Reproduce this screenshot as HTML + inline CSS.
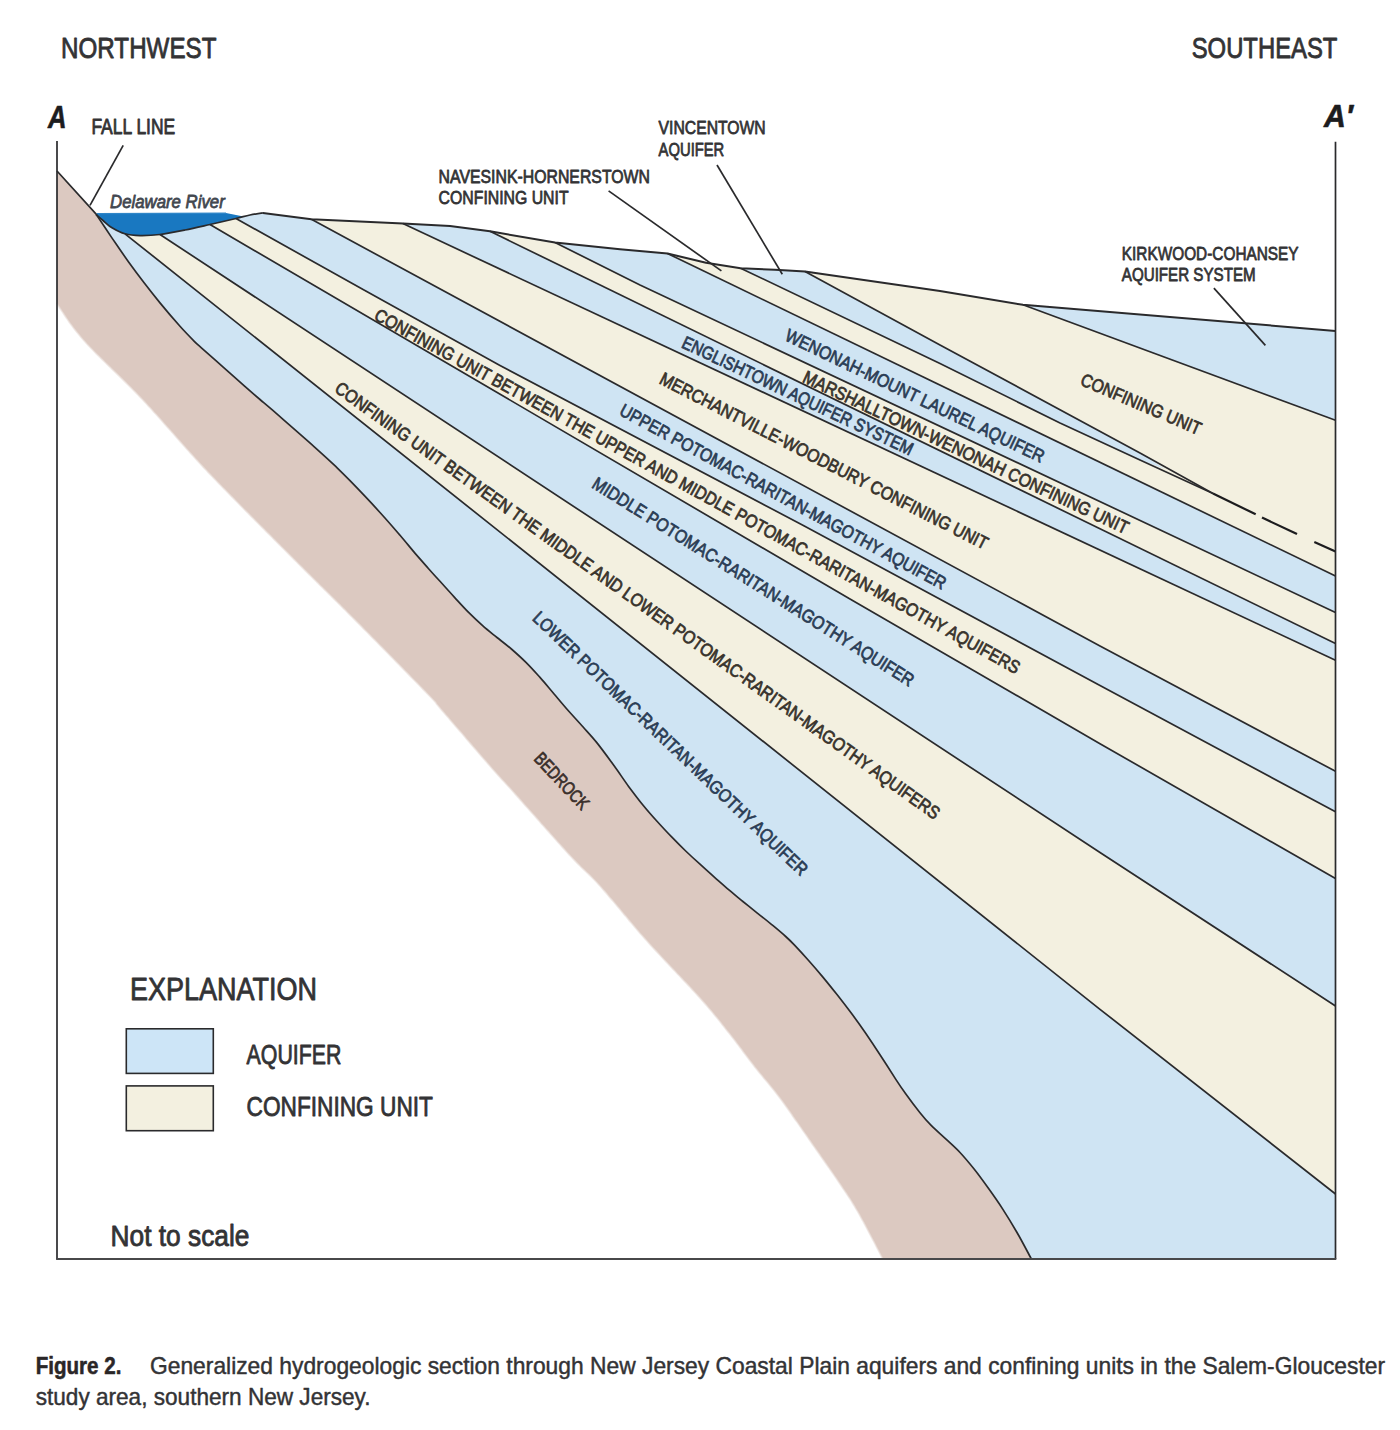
<!DOCTYPE html>
<html><head><meta charset="utf-8"><title>Figure 2</title>
<style>
html,body{margin:0;padding:0;background:#fff;}
body{width:1400px;height:1430px;overflow:hidden;font-family:"Liberation Sans",sans-serif;}
svg{display:block;}
svg text{font-family:"Liberation Sans",sans-serif;}
</style></head>
<body>
<svg width="1400" height="1430" viewBox="0 0 1400 1430">
<rect width="1400" height="1430" fill="#ffffff"/>
<polygon fill="#cfe4f3" points="96,214.5 97.2,215.5 98.9,217 100.9,218.8 103,220.5 104.6,221.9 106.3,223.4 108,224.9 109.9,226.4 112,227.8 113.6,228.8 115.4,229.7 117.2,230.7 119.1,231.6 121,232.4 123,233.2 125,233.8 127,234.3 129,234.7 131,235 133.1,235.3 135.3,235.4 137.6,235.5 140,235.6 141.8,235.6 143.6,235.6 145.5,235.6 147.4,235.5 149.4,235.4 151.4,235.3 153.5,235.2 155.6,235 157.8,234.8 160,234.5 161.9,234.2 163.9,234 165.9,233.6 168,233.3 170.1,232.9 172.2,232.5 174.3,232.1 176.5,231.7 178.6,231.3 180.8,230.8 182.9,230.4 185,230 187.1,229.6 189.2,229.1 191.2,228.7 193.3,228.3 195.4,227.8 197.4,227.3 199.5,226.9 201.6,226.4 203.7,225.9 205.8,225.5 207.9,225 210,224.5 212,224 214.1,223.6 216.2,223.1 218.3,222.6 220.5,222.1 222.6,221.6 224.7,221.1 226.8,220.6 228.9,220.2 230.8,219.7 232.7,219.3 234.4,218.9 236,218.5 238.6,217.9 240.9,217.3 242.9,216.8 244.7,216.3 246.4,215.8 248.2,215.4 250,215 252.4,214.5 254.9,214.1 257.3,213.7 259.6,213.4 261.5,213.1 262.9,212.9 311.4,219.3 402.9,223.6 450,226 490,231.3 555,242.5 620,249.2 667.5,253.5 706,262.7 740.6,268.2 775,269.8 805,271.6 940,290.9 1022.9,304.8 1335.5,330.9 1335.5,1259 1031.4,1259 1031.4,1259 1030.5,1257.4 1029.4,1255.3 1028.1,1252.9 1026.7,1250.1 1025.1,1247.2 1023.4,1244.1 1021.8,1241 1020.1,1238 1018.5,1235.1 1017,1232.5 1015.4,1229.7 1013.9,1227.1 1012.3,1224.4 1010.7,1221.8 1009.2,1219.3 1007.6,1216.8 1006,1214.3 1004.5,1211.8 1002.9,1209.4 1001.1,1206.7 999.3,1204 997.6,1201.4 995.8,1198.8 994,1196.2 992.2,1193.6 990.4,1191.1 988.6,1188.6 986.8,1186.1 985,1183.6 983.2,1181.1 981.5,1178.7 979.7,1176.3 977.9,1173.9 976.1,1171.6 974.3,1169.3 972.3,1166.7 970.2,1164.2 968.2,1161.8 966.1,1159.3 964.1,1157 962,1154.7 960,1152.5 957.6,1150 955.2,1147.7 952.9,1145.5 950.5,1143.3 948.1,1141.1 945.7,1138.9 943.3,1136.7 940.8,1134.5 938.4,1132.2 936,1130.1 933.6,1127.9 931.4,1125.7 929,1123.2 926.8,1120.8 924.6,1118.4 922.4,1115.7 920,1112.7 918.3,1110.6 916.5,1108.3 914.6,1105.8 912.6,1103.2 910.7,1100.6 908.8,1098.1 907.1,1095.7 905.5,1093.5 903.4,1090.6 901.7,1088.1 900,1085.7 898.2,1083 896,1079.6 894.5,1077.3 892.8,1074.7 891.1,1072 889.2,1069.1 887.4,1066.1 885.4,1063.2 883.6,1060.2 881.7,1057.4 880,1054.7 878.1,1051.9 876.3,1049.1 874.5,1046.3 872.7,1043.7 871,1041 869.2,1038.4 867.5,1035.8 865.7,1033.2 863.9,1030.7 862.1,1028.1 860.3,1025.6 858.6,1023.1 856.8,1020.6 855,1018.2 853.2,1015.7 851.4,1013.3 849.3,1010.5 847.3,1007.8 845.2,1005.1 843.2,1002.4 841.1,999.8 839,997.1 837,994.5 835,992 833,989.4 830.9,986.9 828.9,984.5 826.9,982 824.9,979.6 822.9,977.1 820.9,974.7 818.8,972.3 816.8,969.9 814.7,967.5 812.7,965.2 810.6,962.8 808.6,960.5 806.5,958.2 804.3,955.8 802.2,953.4 800,951 798,948.8 796,946.8 794.3,944.9 791.9,942.4 790,940.5 788.1,938.7 785.7,936.5 783.6,934.6 781.4,932.7 778.9,930.6 776.4,928.5 773.9,926.3 771.4,924.3 769,922.4 766.6,920.4 764.2,918.5 761.8,916.6 759.4,914.7 757,912.8 754.6,910.9 752.3,909 749.9,907.2 747.6,905.3 745.3,903.4 742.9,901.5 740.5,899.5 738.1,897.6 735.8,895.6 733.4,893.6 731,891.6 728.6,889.6 726.2,887.6 723.8,885.5 721.5,883.4 719.1,881.3 716.7,879.2 714.3,877.1 711.9,875 709.5,872.8 707.1,870.7 704.8,868.6 702.4,866.4 700,864.2 697.6,862.1 695.2,859.9 692.9,857.7 690.5,855.5 688.1,853.3 685.7,851 683.3,848.7 680.9,846.4 678.6,844 676.2,841.6 673.8,839.2 671.4,836.7 669.3,834.6 667.3,832.4 665.2,830.2 663.2,828 661.1,825.8 659,823.6 657,821.3 655,819 653,816.8 650.9,814.5 648.9,812.2 646.9,809.9 644.9,807.5 642.9,805 640.9,802.5 638.8,799.9 636.8,797.3 634.7,794.6 632.7,791.9 630.6,789.1 628.6,786.4 626.8,783.9 625.1,781.5 623.4,779 621.6,776.5 619.9,773.9 618.1,771.3 616.2,768.7 614.3,766 612.5,763.5 610.6,760.9 608.6,758.3 606.6,755.6 604.6,752.8 602.6,750.2 600.7,747.6 598.8,745.2 597,742.9 594.8,740.2 592.7,737.8 590.7,735.5 588.8,733.3 586.8,731.1 584.9,729 582.9,726.8 580.9,724.5 578.8,722.3 576.8,720 574.7,717.8 572.7,715.6 570.6,713.3 568.6,711 566.6,708.7 564.5,706.3 562.5,703.9 560.4,701.5 558.4,699.1 556.3,696.7 554.3,694.2 552.3,691.8 550.2,689.4 548.2,687 546.1,684.5 544.1,682.1 542,679.8 540,677.4 537.6,674.8 535.2,672.1 532.9,669.5 530.5,667 528.1,664.5 525.7,662.1 523.3,659.8 520.9,657.5 518.6,655.3 516.2,653.2 513.8,651.1 511.4,649 509,647 506.6,645.1 504.2,643.2 501.8,641.3 499.4,639.4 497,637.5 494.6,635.6 492.3,633.7 489.9,631.8 487.6,629.9 485.3,628 482.9,625.9 480.5,623.8 478.1,621.6 475.8,619.4 473.4,617.1 471,614.8 468.6,612.4 466.2,609.9 463.8,607.4 461.4,604.9 459.1,602.3 456.7,599.7 454.3,597.1 452.2,594.9 450.1,592.6 448,590.2 445.9,587.9 443.9,585.6 441.9,583.4 440,581.3 437.6,578.6 435.3,576.1 433.1,573.7 430.9,571.3 428.6,568.7 426.6,566.5 424.6,564.2 422.6,561.9 420.5,559.6 418.3,557.1 416,554.4 414.2,552.2 412.3,550 410.4,547.7 408.5,545.4 406.4,543 404.4,540.5 402.2,537.9 400,535.3 398.2,533.2 396.4,531.1 394.6,529 392.8,526.9 390.9,524.7 388.9,522.4 386.9,520.1 384.7,517.7 382.4,515.1 380,512.5 378.1,510.4 376.1,508.2 373.9,505.9 371.7,503.5 369.4,501 367,498.5 364.6,496 362.3,493.5 360,491.1 357.7,488.7 355.6,486.5 353.5,484.4 351.7,482.4 350,480.7 346.8,477.3 344.3,474.8 342.3,472.8 340.4,470.9 338.3,468.9 335.7,466.4 333.8,464.6 331.8,462.8 329.9,461 327.9,459.1 325.7,457 323.3,454.9 320.6,452.5 317.7,449.8 314.3,446.8 312.5,445.2 310.5,443.4 308.4,441.6 306.1,439.6 303.7,437.5 301.3,435.3 298.7,433.1 296.1,430.8 293.5,428.5 290.9,426.3 288.3,424 285.8,421.8 283.4,419.6 281,417.6 278.7,415.6 276.6,413.8 274.7,412.1 272.9,410.6 271.4,409.2 267.2,405.6 264.8,403.5 263.4,402.3 262.1,401.2 260,399.5 257.7,397.5 255.3,395.4 252.8,393.2 250.1,390.9 247.3,388.5 244.3,385.9 242.2,384 239.9,382 237.6,380 235.2,377.8 232.7,375.7 230.3,373.5 227.8,371.3 225.3,369.1 222.9,366.9 220.4,364.8 217.9,362.5 215.2,360.2 212.6,357.8 210,355.5 207.5,353.3 205.2,351.3 203.2,349.5 201.4,347.9 198.2,345.1 196.7,343.6 194.3,341.3 192.4,339.4 190.3,337.2 188,334.8 185.5,332.2 182.8,329.4 180,326.3 178.2,324.3 176.3,322.1 174.3,319.8 172.2,317.4 170.1,314.9 168,312.4 165.9,309.9 163.8,307.5 161.9,305.2 160,302.9 157.8,300.3 155.8,297.7 153.8,295.3 151.9,292.9 150,290.5 148.1,288.1 146.2,285.6 144.3,283.1 142.3,280.5 140.4,278 138.5,275.4 136.5,272.9 134.6,270.2 132.6,267.6 130.6,264.8 128.6,262 126.9,259.6 125.2,257.2 123.5,254.7 121.8,252.2 120,249.7 118.2,247.1 116.5,244.5 114.8,242 113.1,239.5 111.4,237.1 109.5,234.3 107.5,231.3 105.5,228.3 103.5,225.2 101.5,222.3 99.7,219.6 98.1,217.2 96.7,215.2 95.7,213.6"/>
<polygon fill="#f3f0e0" points="125,233.8 127,234.3 129,234.7 131,235 133.1,235.3 135.3,235.4 137.6,235.5 140,235.6 141.8,235.6 143.6,235.6 145.5,235.6 147.4,235.5 149.4,235.4 151.4,235.3 153.5,235.2 155.6,235 157.8,234.8 160,234.5 161.9,234.2 163.9,234 165.9,233.6 168,233.3 170.1,232.9 172.2,232.5 174.3,232.1 176.5,231.7 178.6,231.3 180.8,230.8 182.9,230.4 185,230 187.1,229.6 189.2,229.1 191.2,228.7 193.3,228.3 195.4,227.8 197.4,227.3 199.5,226.9 201.6,226.4 203.7,225.9 205.8,225.5 207.9,225 210,224.5 212,224 214.1,223.6 216.2,223.1 218.3,222.6 220.5,222.1 222.6,221.6 224.7,221.1 226.8,220.6 228.9,220.2 230.8,219.7 232.7,219.3 234.4,218.9 236,218.5 238.6,217.9 240.9,217.3 242.9,216.8 244.7,216.3 246.4,215.8 248.2,215.4 250,215 252.4,214.5 254.9,214.1 257.3,213.7 259.6,213.4 261.5,213.1 262.9,212.9 311.4,219.3 402.9,223.6 450,226 490,231.3 555,242.5 620,249.2 667.5,253.5 706,262.7 740.6,268.2 775,269.8 805,271.6 940,290.9 1022.9,304.8 1335.5,330.9 1335.5,1194 1100,1009.3"/>
<polygon fill="#cfe4f3" points="160,234.5 161.9,234.2 163.9,234 165.9,233.6 168,233.3 170.1,232.9 172.2,232.5 174.3,232.1 176.5,231.7 178.6,231.3 180.8,230.8 182.9,230.4 185,230 187.1,229.6 189.2,229.1 191.2,228.7 193.3,228.3 195.4,227.8 197.4,227.3 199.5,226.9 201.6,226.4 203.7,225.9 205.8,225.5 207.9,225 210,224.5 212,224 214.1,223.6 216.2,223.1 218.3,222.6 220.5,222.1 222.6,221.6 224.7,221.1 226.8,220.6 228.9,220.2 230.8,219.7 232.7,219.3 234.4,218.9 236,218.5 238.6,217.9 240.9,217.3 242.9,216.8 244.7,216.3 246.4,215.8 248.2,215.4 250,215 252.4,214.5 254.9,214.1 257.3,213.7 259.6,213.4 261.5,213.1 262.9,212.9 311.4,219.3 402.9,223.6 450,226 490,231.3 555,242.5 620,249.2 667.5,253.5 706,262.7 740.6,268.2 775,269.8 805,271.6 940,290.9 1022.9,304.8 1335.5,330.9 1335.5,1006 1100,852.5"/>
<polygon fill="#f3f0e0" points="210,224.5 212,224 214.1,223.6 216.2,223.1 218.3,222.6 220.5,222.1 222.6,221.6 224.7,221.1 226.8,220.6 228.9,220.2 230.8,219.7 232.7,219.3 234.4,218.9 236,218.5 238.6,217.9 240.9,217.3 242.9,216.8 244.7,216.3 246.4,215.8 248.2,215.4 250,215 252.4,214.5 254.9,214.1 257.3,213.7 259.6,213.4 261.5,213.1 262.9,212.9 311.4,219.3 402.9,223.6 450,226 490,231.3 555,242.5 620,249.2 667.5,253.5 706,262.7 740.6,268.2 775,269.8 805,271.6 940,290.9 1022.9,304.8 1335.5,330.9 1335.5,878.6 1100,743.7 850,599"/>
<polygon fill="#cfe4f3" points="236,218.5 238.6,217.9 240.9,217.3 242.9,216.8 244.7,216.3 246.4,215.8 248.2,215.4 250,215 252.4,214.5 254.9,214.1 257.3,213.7 259.6,213.4 261.5,213.1 262.9,212.9 311.4,219.3 402.9,223.6 450,226 490,231.3 555,242.5 620,249.2 667.5,253.5 706,262.7 740.6,268.2 775,269.8 805,271.6 940,290.9 1022.9,304.8 1335.5,330.9 1335.5,811.8 1100,685.5 804.3,526 500,365.5 364,290"/>
<polygon fill="#f3f0e0" points="311.4,219.3 402.9,223.6 450,226 490,231.3 555,242.5 620,249.2 667.5,253.5 706,262.7 740.6,268.2 775,269.8 805,271.6 940,290.9 1022.9,304.8 1335.5,330.9 1335.5,771.3 1100,646"/>
<polygon fill="#cfe4f3" points="402.9,223.6 450,226 490,231.3 555,242.5 620,249.2 667.5,253.5 706,262.7 740.6,268.2 775,269.8 805,271.6 940,290.9 1022.9,304.8 1335.5,330.9 1335.5,660.3"/>
<polygon fill="#f3f0e0" points="490,231.3 555,242.5 620,249.2 667.5,253.5 706,262.7 740.6,268.2 775,269.8 805,271.6 940,290.9 1022.9,304.8 1335.5,330.9 1335.5,643.6"/>
<polygon fill="#cfe4f3" points="555,242.5 620,249.2 667.5,253.5 706,262.7 740.6,268.2 775,269.8 805,271.6 940,290.9 1022.9,304.8 1335.5,330.9 1335.5,612.5 640,285"/>
<polygon fill="#f3f0e0" points="667.5,253.5 706,262.7 740.6,268.2 775,269.8 805,271.6 940,290.9 1022.9,304.8 1335.5,330.9 1335.5,576"/>
<polygon fill="#cfe4f3" points="805,271.6 940,345 1140,452.9 1165,469 1140,460 1060,423 940,363.5 740.6,268.2 775,269.8"/>
<polygon fill="#cfe4f3" points="1022.9,304.8 1335.5,330.9 1335.5,420.3"/>
<polygon fill="#1978c1" points="96,213.4 226,213 243.5,216.4 236,218.5 234.8,218.8 233.4,219.1 231.8,219.5 229.9,219.9 227.8,220.4 225.7,220.9 223.4,221.4 221.1,222 218.8,222.5 216.5,223 214.2,223.5 212,224 210,224.5 207.9,225 205.8,225.5 203.7,225.9 201.6,226.4 199.5,226.9 197.4,227.3 195.4,227.8 193.3,228.3 191.2,228.7 189.2,229.1 187.1,229.6 185,230 182.9,230.4 180.8,230.8 178.6,231.3 176.5,231.7 174.3,232.1 172.2,232.5 170.1,232.9 168,233.3 165.9,233.6 163.9,234 161.9,234.2 160,234.5 157.8,234.8 155.6,235 153.5,235.2 151.4,235.3 149.4,235.4 147.4,235.5 145.5,235.6 143.6,235.6 141.8,235.6 140,235.6 137.6,235.5 135.3,235.4 133.1,235.3 131,235 129,234.7 127,234.3 125,233.8 123,233.2 121,232.4 119.1,231.6 117.2,230.7 115.4,229.7 113.6,228.8 112,227.8 109.9,226.4 108,224.9 106.3,223.4 104.6,221.9 103,220.5 100.9,218.8 98.9,217 97.2,215.5 96,214.5"/>
<line x1="97" y1="213.6" x2="226" y2="213.2" stroke="#2f86c8" stroke-width="1.4"/>
<polyline fill="none" stroke="#dcc9c1" stroke-opacity="0.35" stroke-width="3.2" points="57,302.5 58,303.9 59,305.5 60.2,307.3 61.5,309.3 62.9,311.4 64.5,313.8 66.1,316.3 67.9,318.9 69.8,321.7 71.9,324.5 74.1,327.5 76.4,330.5 78.9,333.6 81.5,336.8 84.3,340 85.9,341.8 87.6,343.7 89.4,345.5 91.2,347.5 93.2,349.4 95.1,351.4 97.1,353.5 99.2,355.5 101.3,357.6 103.5,359.8 105.7,361.9 107.9,364.1 110.2,366.3 112.4,368.5 114.8,370.8 117.1,373 119.4,375.3 121.8,377.6 124.2,380 126.5,382.3 128.9,384.7 131.3,387 133.6,389.4 136,391.8 138.3,394.2 140.6,396.6 142.9,399 144.9,401.1 146.9,403.2 148.8,405.4 150.8,407.5 152.8,409.7 154.7,411.9 156.7,414 158.7,416.2 160.7,418.5 162.7,420.7 164.6,422.9 166.6,425.2 168.6,427.5 170.7,429.7 172.7,432 174.7,434.3 176.8,436.7 178.8,439 180.9,441.3 183,443.7 185,446 187.2,448.4 189.3,450.7 191.4,453.1 193.6,455.5 195.8,457.9 198,460.3 200.2,462.7 202.4,465.1 204.7,467.6 207,470 208.9,472.1 210.9,474.1 212.9,476.2 214.9,478.3 217,480.4 219,482.6 221.1,484.7 223.2,486.9 225.3,489 227.4,491.2 229.6,493.4 231.7,495.6 233.9,497.8 236,500 238.2,502.2 240.4,504.4 242.6,506.7 244.8,508.9 247,511.1 249.2,513.3 251.4,515.6 253.6,517.8 255.8,520 258,522.2 260.2,524.4 262.4,526.6 264.6,528.8 266.7,531 268.9,533.1 271.1,535.3 273.2,537.4 275.3,539.6 277.4,541.7 279.5,543.8 281.6,545.9 283.7,547.9 285.7,550 288,552.3 290.2,554.5 292.5,556.8 294.7,559 296.9,561.2 299.1,563.4 301.3,565.6 303.5,567.8 305.7,570 307.8,572.1 310,574.3 312.2,576.4 314.3,578.5 316.5,580.7 318.6,582.8 320.7,584.9 322.9,587 325,589.1 327.1,591.2 329.2,593.3 331.4,595.4 333.5,597.5 335.6,599.6 337.7,601.7 339.9,603.8 342,606 344.1,608.1 346.3,610.2 348.4,612.4 350.5,614.5 352.7,616.7 354.8,618.8 357,621 359.1,623.1 361.3,625.3 363.5,627.6 365.8,629.9 368.1,632.2 370.4,634.5 372.7,636.9 375.1,639.3 377.5,641.7 379.9,644.2 382.3,646.6 384.7,649 387.1,651.5 389.5,653.9 391.8,656.3 394.2,658.7 396.5,661.1 398.9,663.5 401.1,665.8 403.4,668.1 405.6,670.4 407.8,672.6 409.9,674.8 411.9,676.9 413.9,678.9 415.9,680.9 417.8,682.8 419.6,684.7 421.3,686.5 422.9,688.1 424.5,689.8 426,691.3 427.3,692.7 428.6,694 434.3,700 436.3,702.1 436.5,702.5 437,703.4 440,707 441.4,708.7 443.1,710.6 444.9,712.7 446.8,714.9 448.9,717.3 451.1,719.9 453.3,722.5 455.6,725.2 458,727.9 460.3,730.6 462.7,733.3 465,736 467.2,738.7 469.4,741.2 471.5,743.6 473.5,745.9 475.3,748.1 477,750 479.7,753.1 482.1,755.9 484.3,758.5 486.4,760.8 488.2,763 490,765 491.7,767 493.4,769 495.2,771 497,773 499,775.3 500.6,777 501.9,778.4 503.3,779.9 505,781.8 507.2,784.2 510.3,787.5 514.3,792 515.7,793.6 517.2,795.3 518.9,797.1 520.6,799.1 522.5,801.2 524.4,803.4 526.4,805.7 528.5,808 530.7,810.5 532.9,813 535.2,815.5 537.5,818.1 539.8,820.7 542.1,823.4 544.5,826 546.8,828.7 549.2,831.3 551.5,833.9 553.8,836.4 556,839 558.2,841.4 560.3,843.8 562.4,846.1 564.4,848.3 566.3,850.4 568.1,852.4 569.8,854.3 571.4,856 574.5,859.3 577.2,862.1 579.6,864.5 581.7,866.7 583.6,868.5 585.5,870.2 587.2,871.9 589,873.5 590.8,875.3 592.7,877.2 594.9,879.5 597.3,882 600,885 601.6,886.8 603.3,888.7 605,890.6 606.7,892.6 608.5,894.7 610.3,896.9 612.2,899.1 614.1,901.3 616,903.6 618,906 620,908.3 622,910.8 624,913.2 626.1,915.6 628.1,918.1 630.2,920.6 632.3,923 634.4,925.5 636.5,928 638.6,930.4 640.7,932.9 642.8,935.3 644.9,937.6 647,940 649,942.3 651.1,944.6 653.2,946.9 655.4,949.3 657.6,951.6 659.8,954 662.1,956.5 664.4,958.9 666.6,961.3 668.9,963.7 671.2,966.2 673.5,968.6 675.8,971 678,973.4 680.3,975.7 682.5,978.1 684.6,980.4 686.8,982.6 688.8,984.8 690.9,987 692.8,989.1 694.7,991.2 696.6,993.2 698.3,995.1 700,997 702.8,1000.1 705.4,1003.1 707.7,1005.8 710,1008.4 712,1010.8 714,1013.2 715.8,1015.4 717.6,1017.6 719.4,1019.8 721.2,1022 722.9,1024.3 724.7,1026.5 726.6,1028.9 728.6,1031.4 730.5,1033.8 732.4,1036.3 734.4,1038.8 736.3,1041.3 738.3,1043.9 740.2,1046.5 742.2,1049.1 744.1,1051.7 746,1054.2 747.9,1056.7 749.8,1059.2 751.7,1061.7 753.5,1064.1 755.3,1066.4 757,1068.6 759.1,1071.2 761,1073.6 762.9,1075.8 764.6,1078 766.4,1080 768.1,1082.1 769.9,1084.2 771.7,1086.4 773.6,1088.7 775.6,1091.2 777.7,1094 780,1097 781.5,1099.1 783.2,1101.3 784.8,1103.6 786.6,1106.1 788.4,1108.6 790.2,1111.1 792.1,1113.8 793.9,1116.5 795.8,1119.2 797.8,1121.9 799.7,1124.7 801.6,1127.4 803.5,1130.2 805.4,1132.9 807.3,1135.6 809.1,1138.2 810.9,1140.8 812.6,1143.3 814.3,1145.7 816.3,1148.5 818.2,1151.3 820.2,1154.1 822.1,1156.9 824,1159.6 825.9,1162.3 827.8,1165 829.7,1167.7 831.5,1170.3 833.3,1172.9 835,1175.4 836.7,1177.8 838.3,1180.2 839.9,1182.6 841.4,1184.8 842.9,1187 845,1190.2 847,1193.1 848.7,1195.7 850.3,1198.1 851.8,1200.4 853.2,1202.8 854.8,1205.3 856.3,1208 858.1,1210.9 860,1214.3 861.3,1216.7 862.8,1219.4 864.4,1222.2 866,1225.3 867.7,1228.5 869.4,1231.8 871.1,1235.1 872.9,1238.4 874.6,1241.6 876.2,1244.7 877.7,1247.7 879.2,1250.6 880.5,1253.1 881.7,1255.4 882.8,1257.4 883.6,1259"/>
<polyline fill="none" stroke="#dcc9c1" stroke-opacity="0.5" stroke-width="1.6" points="57,302.5 58,303.9 59,305.5 60.2,307.3 61.5,309.3 62.9,311.4 64.5,313.8 66.1,316.3 67.9,318.9 69.8,321.7 71.9,324.5 74.1,327.5 76.4,330.5 78.9,333.6 81.5,336.8 84.3,340 85.9,341.8 87.6,343.7 89.4,345.5 91.2,347.5 93.2,349.4 95.1,351.4 97.1,353.5 99.2,355.5 101.3,357.6 103.5,359.8 105.7,361.9 107.9,364.1 110.2,366.3 112.4,368.5 114.8,370.8 117.1,373 119.4,375.3 121.8,377.6 124.2,380 126.5,382.3 128.9,384.7 131.3,387 133.6,389.4 136,391.8 138.3,394.2 140.6,396.6 142.9,399 144.9,401.1 146.9,403.2 148.8,405.4 150.8,407.5 152.8,409.7 154.7,411.9 156.7,414 158.7,416.2 160.7,418.5 162.7,420.7 164.6,422.9 166.6,425.2 168.6,427.5 170.7,429.7 172.7,432 174.7,434.3 176.8,436.7 178.8,439 180.9,441.3 183,443.7 185,446 187.2,448.4 189.3,450.7 191.4,453.1 193.6,455.5 195.8,457.9 198,460.3 200.2,462.7 202.4,465.1 204.7,467.6 207,470 208.9,472.1 210.9,474.1 212.9,476.2 214.9,478.3 217,480.4 219,482.6 221.1,484.7 223.2,486.9 225.3,489 227.4,491.2 229.6,493.4 231.7,495.6 233.9,497.8 236,500 238.2,502.2 240.4,504.4 242.6,506.7 244.8,508.9 247,511.1 249.2,513.3 251.4,515.6 253.6,517.8 255.8,520 258,522.2 260.2,524.4 262.4,526.6 264.6,528.8 266.7,531 268.9,533.1 271.1,535.3 273.2,537.4 275.3,539.6 277.4,541.7 279.5,543.8 281.6,545.9 283.7,547.9 285.7,550 288,552.3 290.2,554.5 292.5,556.8 294.7,559 296.9,561.2 299.1,563.4 301.3,565.6 303.5,567.8 305.7,570 307.8,572.1 310,574.3 312.2,576.4 314.3,578.5 316.5,580.7 318.6,582.8 320.7,584.9 322.9,587 325,589.1 327.1,591.2 329.2,593.3 331.4,595.4 333.5,597.5 335.6,599.6 337.7,601.7 339.9,603.8 342,606 344.1,608.1 346.3,610.2 348.4,612.4 350.5,614.5 352.7,616.7 354.8,618.8 357,621 359.1,623.1 361.3,625.3 363.5,627.6 365.8,629.9 368.1,632.2 370.4,634.5 372.7,636.9 375.1,639.3 377.5,641.7 379.9,644.2 382.3,646.6 384.7,649 387.1,651.5 389.5,653.9 391.8,656.3 394.2,658.7 396.5,661.1 398.9,663.5 401.1,665.8 403.4,668.1 405.6,670.4 407.8,672.6 409.9,674.8 411.9,676.9 413.9,678.9 415.9,680.9 417.8,682.8 419.6,684.7 421.3,686.5 422.9,688.1 424.5,689.8 426,691.3 427.3,692.7 428.6,694 434.3,700 436.3,702.1 436.5,702.5 437,703.4 440,707 441.4,708.7 443.1,710.6 444.9,712.7 446.8,714.9 448.9,717.3 451.1,719.9 453.3,722.5 455.6,725.2 458,727.9 460.3,730.6 462.7,733.3 465,736 467.2,738.7 469.4,741.2 471.5,743.6 473.5,745.9 475.3,748.1 477,750 479.7,753.1 482.1,755.9 484.3,758.5 486.4,760.8 488.2,763 490,765 491.7,767 493.4,769 495.2,771 497,773 499,775.3 500.6,777 501.9,778.4 503.3,779.9 505,781.8 507.2,784.2 510.3,787.5 514.3,792 515.7,793.6 517.2,795.3 518.9,797.1 520.6,799.1 522.5,801.2 524.4,803.4 526.4,805.7 528.5,808 530.7,810.5 532.9,813 535.2,815.5 537.5,818.1 539.8,820.7 542.1,823.4 544.5,826 546.8,828.7 549.2,831.3 551.5,833.9 553.8,836.4 556,839 558.2,841.4 560.3,843.8 562.4,846.1 564.4,848.3 566.3,850.4 568.1,852.4 569.8,854.3 571.4,856 574.5,859.3 577.2,862.1 579.6,864.5 581.7,866.7 583.6,868.5 585.5,870.2 587.2,871.9 589,873.5 590.8,875.3 592.7,877.2 594.9,879.5 597.3,882 600,885 601.6,886.8 603.3,888.7 605,890.6 606.7,892.6 608.5,894.7 610.3,896.9 612.2,899.1 614.1,901.3 616,903.6 618,906 620,908.3 622,910.8 624,913.2 626.1,915.6 628.1,918.1 630.2,920.6 632.3,923 634.4,925.5 636.5,928 638.6,930.4 640.7,932.9 642.8,935.3 644.9,937.6 647,940 649,942.3 651.1,944.6 653.2,946.9 655.4,949.3 657.6,951.6 659.8,954 662.1,956.5 664.4,958.9 666.6,961.3 668.9,963.7 671.2,966.2 673.5,968.6 675.8,971 678,973.4 680.3,975.7 682.5,978.1 684.6,980.4 686.8,982.6 688.8,984.8 690.9,987 692.8,989.1 694.7,991.2 696.6,993.2 698.3,995.1 700,997 702.8,1000.1 705.4,1003.1 707.7,1005.8 710,1008.4 712,1010.8 714,1013.2 715.8,1015.4 717.6,1017.6 719.4,1019.8 721.2,1022 722.9,1024.3 724.7,1026.5 726.6,1028.9 728.6,1031.4 730.5,1033.8 732.4,1036.3 734.4,1038.8 736.3,1041.3 738.3,1043.9 740.2,1046.5 742.2,1049.1 744.1,1051.7 746,1054.2 747.9,1056.7 749.8,1059.2 751.7,1061.7 753.5,1064.1 755.3,1066.4 757,1068.6 759.1,1071.2 761,1073.6 762.9,1075.8 764.6,1078 766.4,1080 768.1,1082.1 769.9,1084.2 771.7,1086.4 773.6,1088.7 775.6,1091.2 777.7,1094 780,1097 781.5,1099.1 783.2,1101.3 784.8,1103.6 786.6,1106.1 788.4,1108.6 790.2,1111.1 792.1,1113.8 793.9,1116.5 795.8,1119.2 797.8,1121.9 799.7,1124.7 801.6,1127.4 803.5,1130.2 805.4,1132.9 807.3,1135.6 809.1,1138.2 810.9,1140.8 812.6,1143.3 814.3,1145.7 816.3,1148.5 818.2,1151.3 820.2,1154.1 822.1,1156.9 824,1159.6 825.9,1162.3 827.8,1165 829.7,1167.7 831.5,1170.3 833.3,1172.9 835,1175.4 836.7,1177.8 838.3,1180.2 839.9,1182.6 841.4,1184.8 842.9,1187 845,1190.2 847,1193.1 848.7,1195.7 850.3,1198.1 851.8,1200.4 853.2,1202.8 854.8,1205.3 856.3,1208 858.1,1210.9 860,1214.3 861.3,1216.7 862.8,1219.4 864.4,1222.2 866,1225.3 867.7,1228.5 869.4,1231.8 871.1,1235.1 872.9,1238.4 874.6,1241.6 876.2,1244.7 877.7,1247.7 879.2,1250.6 880.5,1253.1 881.7,1255.4 882.8,1257.4 883.6,1259"/>
<polygon fill="#dcc9c1" points="57,171 95.7,213.6 96.7,215.2 98.1,217.2 99.7,219.6 101.5,222.3 103.5,225.2 105.5,228.3 107.5,231.3 109.5,234.3 111.4,237.1 113.1,239.5 114.8,242 116.5,244.5 118.2,247.1 120,249.7 121.8,252.2 123.5,254.7 125.2,257.2 126.9,259.6 128.6,262 130.6,264.8 132.6,267.6 134.6,270.2 136.5,272.9 138.5,275.4 140.4,278 142.3,280.5 144.3,283.1 146.2,285.6 148.1,288.1 150,290.5 151.9,292.9 153.8,295.3 155.8,297.7 157.8,300.3 160,302.9 161.9,305.2 163.8,307.5 165.9,309.9 168,312.4 170.1,314.9 172.2,317.4 174.3,319.8 176.3,322.1 178.2,324.3 180,326.3 182.8,329.4 185.5,332.2 188,334.8 190.3,337.2 192.4,339.4 194.3,341.3 196.7,343.6 198.2,345.1 201.4,347.9 203.2,349.5 205.2,351.3 207.5,353.3 210,355.5 212.6,357.8 215.2,360.2 217.9,362.5 220.4,364.8 222.9,366.9 225.3,369.1 227.8,371.3 230.3,373.5 232.7,375.7 235.2,377.8 237.6,380 239.9,382 242.2,384 244.3,385.9 247.3,388.5 250.1,390.9 252.8,393.2 255.3,395.4 257.7,397.5 260,399.5 262.1,401.2 263.4,402.3 264.8,403.5 267.2,405.6 271.4,409.2 272.9,410.6 274.7,412.1 276.6,413.8 278.7,415.6 281,417.6 283.4,419.6 285.8,421.8 288.3,424 290.9,426.3 293.5,428.5 296.1,430.8 298.7,433.1 301.3,435.3 303.7,437.5 306.1,439.6 308.4,441.6 310.5,443.4 312.5,445.2 314.3,446.8 317.7,449.8 320.6,452.5 323.3,454.9 325.7,457 327.9,459.1 329.9,461 331.8,462.8 333.8,464.6 335.7,466.4 338.3,468.9 340.4,470.9 342.3,472.8 344.3,474.8 346.8,477.3 350,480.7 351.7,482.4 353.5,484.4 355.6,486.5 357.7,488.7 360,491.1 362.3,493.5 364.6,496 367,498.5 369.4,501 371.7,503.5 373.9,505.9 376.1,508.2 378.1,510.4 380,512.5 382.4,515.1 384.7,517.7 386.9,520.1 388.9,522.4 390.9,524.7 392.8,526.9 394.6,529 396.4,531.1 398.2,533.2 400,535.3 402.2,537.9 404.4,540.5 406.4,543 408.5,545.4 410.4,547.7 412.3,550 414.2,552.2 416,554.4 418.3,557.1 420.5,559.6 422.6,561.9 424.6,564.2 426.6,566.5 428.6,568.7 430.9,571.3 433.1,573.7 435.3,576.1 437.6,578.6 440,581.3 441.9,583.4 443.9,585.6 445.9,587.9 448,590.2 450.1,592.6 452.2,594.9 454.3,597.1 456.7,599.7 459.1,602.3 461.4,604.9 463.8,607.4 466.2,609.9 468.6,612.4 471,614.8 473.4,617.1 475.8,619.4 478.1,621.6 480.5,623.8 482.9,625.9 485.3,628 487.6,629.9 489.9,631.8 492.3,633.7 494.6,635.6 497,637.5 499.4,639.4 501.8,641.3 504.2,643.2 506.6,645.1 509,647 511.4,649 513.8,651.1 516.2,653.2 518.6,655.3 520.9,657.5 523.3,659.8 525.7,662.1 528.1,664.5 530.5,667 532.9,669.5 535.2,672.1 537.6,674.8 540,677.4 542,679.8 544.1,682.1 546.1,684.5 548.2,687 550.2,689.4 552.3,691.8 554.3,694.2 556.3,696.7 558.4,699.1 560.4,701.5 562.5,703.9 564.5,706.3 566.6,708.7 568.6,711 570.6,713.3 572.7,715.6 574.7,717.8 576.8,720 578.8,722.3 580.9,724.5 582.9,726.8 584.9,729 586.8,731.1 588.8,733.3 590.7,735.5 592.7,737.8 594.8,740.2 597,742.9 598.8,745.2 600.7,747.6 602.6,750.2 604.6,752.8 606.6,755.6 608.6,758.3 610.6,760.9 612.5,763.5 614.3,766 616.2,768.7 618.1,771.3 619.9,773.9 621.6,776.5 623.4,779 625.1,781.5 626.8,783.9 628.6,786.4 630.6,789.1 632.7,791.9 634.7,794.6 636.8,797.3 638.8,799.9 640.9,802.5 642.9,805 644.9,807.5 646.9,809.9 648.9,812.2 650.9,814.5 653,816.8 655,819 657,821.3 659,823.6 661.1,825.8 663.2,828 665.2,830.2 667.3,832.4 669.3,834.6 671.4,836.7 673.8,839.2 676.2,841.6 678.6,844 680.9,846.4 683.3,848.7 685.7,851 688.1,853.3 690.5,855.5 692.9,857.7 695.2,859.9 697.6,862.1 700,864.2 702.4,866.4 704.8,868.6 707.1,870.7 709.5,872.8 711.9,875 714.3,877.1 716.7,879.2 719.1,881.3 721.5,883.4 723.8,885.5 726.2,887.6 728.6,889.6 731,891.6 733.4,893.6 735.8,895.6 738.1,897.6 740.5,899.5 742.9,901.5 745.3,903.4 747.6,905.3 749.9,907.2 752.3,909 754.6,910.9 757,912.8 759.4,914.7 761.8,916.6 764.2,918.5 766.6,920.4 769,922.4 771.4,924.3 773.9,926.3 776.4,928.5 778.9,930.6 781.4,932.7 783.6,934.6 785.7,936.5 788.1,938.7 790,940.5 791.9,942.4 794.3,944.9 796,946.8 798,948.8 800,951 802.2,953.4 804.3,955.8 806.5,958.2 808.6,960.5 810.6,962.8 812.7,965.2 814.7,967.5 816.8,969.9 818.8,972.3 820.9,974.7 822.9,977.1 824.9,979.6 826.9,982 828.9,984.5 830.9,986.9 833,989.4 835,992 837,994.5 839,997.1 841.1,999.8 843.2,1002.4 845.2,1005.1 847.3,1007.8 849.3,1010.5 851.4,1013.3 853.2,1015.7 855,1018.2 856.8,1020.6 858.6,1023.1 860.3,1025.6 862.1,1028.1 863.9,1030.7 865.7,1033.2 867.5,1035.8 869.2,1038.4 871,1041 872.7,1043.7 874.5,1046.3 876.3,1049.1 878.1,1051.9 880,1054.7 881.7,1057.4 883.6,1060.2 885.4,1063.2 887.4,1066.1 889.2,1069.1 891.1,1072 892.8,1074.7 894.5,1077.3 896,1079.6 898.2,1083 900,1085.7 901.7,1088.1 903.4,1090.6 905.5,1093.5 907.1,1095.7 908.8,1098.1 910.7,1100.6 912.6,1103.2 914.6,1105.8 916.5,1108.3 918.3,1110.6 920,1112.7 922.4,1115.7 924.6,1118.4 926.8,1120.8 929,1123.2 931.4,1125.7 933.6,1127.9 936,1130.1 938.4,1132.2 940.8,1134.5 943.3,1136.7 945.7,1138.9 948.1,1141.1 950.5,1143.3 952.9,1145.5 955.2,1147.7 957.6,1150 960,1152.5 962,1154.7 964.1,1157 966.1,1159.3 968.2,1161.8 970.2,1164.2 972.3,1166.7 974.3,1169.3 976.1,1171.6 977.9,1173.9 979.7,1176.3 981.5,1178.7 983.2,1181.1 985,1183.6 986.8,1186.1 988.6,1188.6 990.4,1191.1 992.2,1193.6 994,1196.2 995.8,1198.8 997.6,1201.4 999.3,1204 1001.1,1206.7 1002.9,1209.4 1004.5,1211.8 1006,1214.3 1007.6,1216.8 1009.2,1219.3 1010.7,1221.8 1012.3,1224.4 1013.9,1227.1 1015.4,1229.7 1017,1232.5 1018.5,1235.1 1020.1,1238 1021.8,1241 1023.4,1244.1 1025.1,1247.2 1026.7,1250.1 1028.1,1252.9 1029.4,1255.3 1030.5,1257.4 1031.4,1259 883.6,1259 882.8,1257.4 881.7,1255.4 880.5,1253.1 879.2,1250.6 877.7,1247.7 876.2,1244.7 874.6,1241.6 872.9,1238.4 871.1,1235.1 869.4,1231.8 867.7,1228.5 866,1225.3 864.4,1222.2 862.8,1219.4 861.3,1216.7 860,1214.3 858.1,1210.9 856.3,1208 854.8,1205.3 853.2,1202.8 851.8,1200.4 850.3,1198.1 848.7,1195.7 847,1193.1 845,1190.2 842.9,1187 841.4,1184.8 839.9,1182.6 838.3,1180.2 836.7,1177.8 835,1175.4 833.3,1172.9 831.5,1170.3 829.7,1167.7 827.8,1165 825.9,1162.3 824,1159.6 822.1,1156.9 820.2,1154.1 818.2,1151.3 816.3,1148.5 814.3,1145.7 812.6,1143.3 810.9,1140.8 809.1,1138.2 807.3,1135.6 805.4,1132.9 803.5,1130.2 801.6,1127.4 799.7,1124.7 797.8,1121.9 795.8,1119.2 793.9,1116.5 792.1,1113.8 790.2,1111.1 788.4,1108.6 786.6,1106.1 784.8,1103.6 783.2,1101.3 781.5,1099.1 780,1097 777.7,1094 775.6,1091.2 773.6,1088.7 771.7,1086.4 769.9,1084.2 768.1,1082.1 766.4,1080 764.6,1078 762.9,1075.8 761,1073.6 759.1,1071.2 757,1068.6 755.3,1066.4 753.5,1064.1 751.7,1061.7 749.8,1059.2 747.9,1056.7 746,1054.2 744.1,1051.7 742.2,1049.1 740.2,1046.5 738.3,1043.9 736.3,1041.3 734.4,1038.8 732.4,1036.3 730.5,1033.8 728.6,1031.4 726.6,1028.9 724.7,1026.5 722.9,1024.3 721.2,1022 719.4,1019.8 717.6,1017.6 715.8,1015.4 714,1013.2 712,1010.8 710,1008.4 707.7,1005.8 705.4,1003.1 702.8,1000.1 700,997 698.3,995.1 696.6,993.2 694.7,991.2 692.8,989.1 690.9,987 688.8,984.8 686.8,982.6 684.6,980.4 682.5,978.1 680.3,975.7 678,973.4 675.8,971 673.5,968.6 671.2,966.2 668.9,963.7 666.6,961.3 664.4,958.9 662.1,956.5 659.8,954 657.6,951.6 655.4,949.3 653.2,946.9 651.1,944.6 649,942.3 647,940 644.9,937.6 642.8,935.3 640.7,932.9 638.6,930.4 636.5,928 634.4,925.5 632.3,923 630.2,920.6 628.1,918.1 626.1,915.6 624,913.2 622,910.8 620,908.3 618,906 616,903.6 614.1,901.3 612.2,899.1 610.3,896.9 608.5,894.7 606.7,892.6 605,890.6 603.3,888.7 601.6,886.8 600,885 597.3,882 594.9,879.5 592.7,877.2 590.8,875.3 589,873.5 587.2,871.9 585.5,870.2 583.6,868.5 581.7,866.7 579.6,864.5 577.2,862.1 574.5,859.3 571.4,856 569.8,854.3 568.1,852.4 566.3,850.4 564.4,848.3 562.4,846.1 560.3,843.8 558.2,841.4 556,839 553.8,836.4 551.5,833.9 549.2,831.3 546.8,828.7 544.5,826 542.1,823.4 539.8,820.7 537.5,818.1 535.2,815.5 532.9,813 530.7,810.5 528.5,808 526.4,805.7 524.4,803.4 522.5,801.2 520.6,799.1 518.9,797.1 517.2,795.3 515.7,793.6 514.3,792 510.3,787.5 507.2,784.2 505,781.8 503.3,779.9 501.9,778.4 500.6,777 499,775.3 497,773 495.2,771 493.4,769 491.7,767 490,765 488.2,763 486.4,760.8 484.3,758.5 482.1,755.9 479.7,753.1 477,750 475.3,748.1 473.5,745.9 471.5,743.6 469.4,741.2 467.2,738.7 465,736 462.7,733.3 460.3,730.6 458,727.9 455.6,725.2 453.3,722.5 451.1,719.9 448.9,717.3 446.8,714.9 444.9,712.7 443.1,710.6 441.4,708.7 440,707 437,703.4 436.5,702.5 436.3,702.1 434.3,700 428.6,694 427.3,692.7 426,691.3 424.5,689.8 422.9,688.1 421.3,686.5 419.6,684.7 417.8,682.8 415.9,680.9 413.9,678.9 411.9,676.9 409.9,674.8 407.8,672.6 405.6,670.4 403.4,668.1 401.1,665.8 398.9,663.5 396.5,661.1 394.2,658.7 391.8,656.3 389.5,653.9 387.1,651.5 384.7,649 382.3,646.6 379.9,644.2 377.5,641.7 375.1,639.3 372.7,636.9 370.4,634.5 368.1,632.2 365.8,629.9 363.5,627.6 361.3,625.3 359.1,623.1 357,621 354.8,618.8 352.7,616.7 350.5,614.5 348.4,612.4 346.3,610.2 344.1,608.1 342,606 339.9,603.8 337.7,601.7 335.6,599.6 333.5,597.5 331.4,595.4 329.2,593.3 327.1,591.2 325,589.1 322.9,587 320.7,584.9 318.6,582.8 316.5,580.7 314.3,578.5 312.2,576.4 310,574.3 307.8,572.1 305.7,570 303.5,567.8 301.3,565.6 299.1,563.4 296.9,561.2 294.7,559 292.5,556.8 290.2,554.5 288,552.3 285.7,550 283.7,547.9 281.6,545.9 279.5,543.8 277.4,541.7 275.3,539.6 273.2,537.4 271.1,535.3 268.9,533.1 266.7,531 264.6,528.8 262.4,526.6 260.2,524.4 258,522.2 255.8,520 253.6,517.8 251.4,515.6 249.2,513.3 247,511.1 244.8,508.9 242.6,506.7 240.4,504.4 238.2,502.2 236,500 233.9,497.8 231.7,495.6 229.6,493.4 227.4,491.2 225.3,489 223.2,486.9 221.1,484.7 219,482.6 217,480.4 214.9,478.3 212.9,476.2 210.9,474.1 208.9,472.1 207,470 204.7,467.6 202.4,465.1 200.2,462.7 198,460.3 195.8,457.9 193.6,455.5 191.4,453.1 189.3,450.7 187.2,448.4 185,446 183,443.7 180.9,441.3 178.8,439 176.8,436.7 174.7,434.3 172.7,432 170.7,429.7 168.6,427.5 166.6,425.2 164.6,422.9 162.7,420.7 160.7,418.5 158.7,416.2 156.7,414 154.7,411.9 152.8,409.7 150.8,407.5 148.8,405.4 146.9,403.2 144.9,401.1 142.9,399 140.6,396.6 138.3,394.2 136,391.8 133.6,389.4 131.3,387 128.9,384.7 126.5,382.3 124.2,380 121.8,377.6 119.4,375.3 117.1,373 114.8,370.8 112.4,368.5 110.2,366.3 107.9,364.1 105.7,361.9 103.5,359.8 101.3,357.6 99.2,355.5 97.1,353.5 95.1,351.4 93.2,349.4 91.2,347.5 89.4,345.5 87.6,343.7 85.9,341.8 84.3,340 81.5,336.8 78.9,333.6 76.4,330.5 74.1,327.5 71.9,324.5 69.8,321.7 67.9,318.9 66.1,316.3 64.5,313.8 62.9,311.4 61.5,309.3 60.2,307.3 59,305.5 58,303.9 57,302.5"/>
<g fill="none" stroke="#2a2a2c" stroke-width="1.7" stroke-linecap="butt" stroke-linejoin="round">
<polyline points="125,233.8 1100,1009.3 1335.5,1194"/>
<polyline points="160,234.5 1100,852.5 1335.5,1006"/>
<polyline points="210,224.5 850,599 1100,743.7 1335.5,878.6"/>
<polyline points="236,218.5 364,290 500,365.5 804.3,526 1100,685.5 1335.5,811.8"/>
<polyline points="311.4,219.3 1100,646 1335.5,771.3"/>
<polyline points="402.9,223.6 1335.5,660.3"/>
<polyline points="490,231.3 1335.5,643.6"/>
<polyline points="555,242.5 640,285 1335.5,612.5"/>
<polyline points="667.5,253.5 1335.5,576"/>
<polyline points="1022.9,304.8 1335.5,420.3"/>
<polyline points="740.6,268.2 940,363.5 1060,423 1140,460 1213,493.5"/>
<polyline points="805,271.6 940,345 1140,452.9 1213,493.5"/>
<path d="M96 214.5 C97.2 215.5 100.3 218.3 103 220.5 C105.7 222.7 108.3 225.6 112 227.8 C115.7 230 120.3 232.5 125 233.8 C129.7 235.1 134.2 235.5 140 235.6 C145.8 235.7 152.5 235.4 160 234.5 C167.5 233.6 176.7 231.7 185 230 C193.3 228.3 201.5 226.4 210 224.5 C218.5 222.6 229.3 220.1 236 218.5 C242.7 216.9 245.5 215.9 250 215 C254.5 214.1 260.8 213.2 262.9 212.9"/>
<polyline stroke-width="2" points="262.9,212.9 311.4,219.3 402.9,223.6 450,226 490,231.3 555,242.5 620,249.2 667.5,253.5 706,262.7 740.6,268.2 775,269.8 805,271.6 940,290.9 1022.9,304.8 1335.5,330.9"/>
<path d="M57 171 L95.7 213.6 L95.7 213.6 C98.3 217.5 105.9 229 111.4 237.1 C116.9 245.1 123.1 254.3 128.6 262 C134.1 269.6 139.1 276.3 144.3 283.1 C149.5 289.9 154.1 295.7 160 302.9 C165.9 310.1 174.3 319.9 180 326.3 C185.7 332.7 190.7 337.7 194.3 341.3 C197.9 344.9 196.6 343.6 201.4 347.9 C206.2 352.2 215.8 360.6 222.9 366.9 C230.1 373.3 238.1 380.4 244.3 385.9 C250.5 391.3 255.5 395.6 260 399.5 C264.5 403.4 262.3 401.4 271.4 409.2 C280.4 417.1 303.6 437.2 314.3 446.8 C325 456.3 329.8 460.8 335.7 466.4 C341.6 472.1 342.6 473 350 480.7 C357.4 488.3 371.7 503.3 380 512.5 C388.3 521.6 394 528.3 400 535.3 C406 542.3 411.2 548.8 416 554.4 C420.8 559.9 424.6 564.2 428.6 568.7 C432.6 573.2 435.7 576.6 440 581.3 C444.3 586.1 449.5 591.9 454.3 597.1 C459.1 602.3 463.8 607.6 468.6 612.4 C473.4 617.2 478.2 621.7 482.9 625.9 C487.6 630.1 492.2 633.6 497 637.5 C501.8 641.3 506.6 644.9 511.4 649 C516.2 653.2 520.9 657.4 525.7 662.1 C530.5 666.8 535.2 672.1 540 677.4 C544.8 682.8 549.5 688.6 554.3 694.2 C559.1 699.9 563.8 705.6 568.6 711 C573.4 716.4 578.2 721.4 582.9 726.8 C587.6 732.1 591.8 736.3 597 742.9 C602.2 749.4 609 758.8 614.3 766 C619.6 773.3 623.8 779.9 628.6 786.4 C633.4 792.8 638.2 799.2 642.9 805 C647.6 810.8 652.2 816 657 821.3 C661.8 826.6 666.6 831.8 671.4 836.7 C676.2 841.7 680.9 846.4 685.7 851 C690.5 855.6 695.2 859.9 700 864.2 C704.8 868.6 709.5 872.9 714.3 877.1 C719.1 881.3 723.8 885.5 728.6 889.6 C733.4 893.7 738.2 897.6 742.9 901.5 C747.6 905.3 752.2 909 757 912.8 C761.8 916.6 766.6 920.4 771.4 924.3 C776.2 928.3 781.9 933 785.7 936.5 C789.5 939.9 790.5 940.9 794.3 944.9 C798.1 948.9 803.8 955.1 808.6 960.5 C813.4 965.9 818.2 971.5 822.9 977.1 C827.6 982.8 832.2 988.5 837 994.5 C841.8 1000.6 846.6 1006.8 851.4 1013.3 C856.2 1019.7 860.9 1026.3 865.7 1033.2 C870.5 1040.2 875 1047 880 1054.7 C885 1062.4 891.8 1073.1 896 1079.6 C900.2 1086.1 901.5 1088 905.5 1093.5 C909.5 1099.1 915.7 1107.4 920 1112.7 C924.3 1118.1 927.1 1121.3 931.4 1125.7 C935.7 1130 940.9 1134.4 945.7 1138.9 C950.5 1143.4 955.2 1147.4 960 1152.5 C964.8 1157.6 969.5 1163.3 974.3 1169.3 C979.1 1175.3 983.8 1181.9 988.6 1188.6 C993.4 1195.3 998.2 1202.1 1002.9 1209.4 C1007.6 1216.7 1012.2 1224.2 1017 1232.5 C1021.8 1240.7 1029 1254.6 1031.4 1259"/>
<line x1="123.2" y1="145.4" x2="90" y2="205.3"/>
<line x1="608.6" y1="190.9" x2="721.4" y2="270.9"/>
<line x1="717" y1="165" x2="782.3" y2="274.3"/>
<line x1="1213.9" y1="288.1" x2="1265.4" y2="345.4"/>
</g>
<g fill="none" stroke="#1c1c1e" stroke-width="2.2">
<line x1="1213" y1="493.5" x2="1255.7" y2="514.3"/>
<line x1="1262" y1="517.6" x2="1297" y2="534.1"/>
<line x1="1314.3" y1="542" x2="1335.5" y2="551.4"/>
</g>
<g fill="none" stroke="#2a2a2c" stroke-width="1.7">
<polyline points="57,141 57,1259"/>
<polyline points="1335.5,1259 1335.5,141.7"/>
<line x1="56.1" y1="1259" x2="1336.3" y2="1259" stroke="#48484a" stroke-width="2.1"/>
</g>
<rect x="126.3" y="1028.8" width="87" height="44.6" fill="#cde5f7" stroke="#2a2a2c" stroke-width="1.6"/>
<rect x="126.3" y="1085.9" width="87" height="44.8" fill="#f3f0e0" stroke="#2a2a2c" stroke-width="1.6"/>
<text transform="translate(61.1 57.5)" font-size="29.2" font-weight="normal" font-style="normal" fill="#333335" textLength="155.3" lengthAdjust="spacingAndGlyphs" stroke="#333335" stroke-width="0.85" stroke-linejoin="round">NORTHWEST</text>
<text transform="translate(1191.7 57.8)" font-size="29.2" font-weight="normal" font-style="normal" fill="#333335" textLength="145.7" lengthAdjust="spacingAndGlyphs" stroke="#333335" stroke-width="0.85" stroke-linejoin="round">SOUTHEAST</text>
<text transform="translate(47.9 127.6)" font-size="30.5" font-weight="bold" font-style="italic" fill="#1c1c1e" textLength="18.5" lengthAdjust="spacingAndGlyphs" stroke="#1c1c1e" stroke-width="0.6" stroke-linejoin="round">A</text>
<text transform="translate(1323.9 127.4)" font-size="30.5" font-weight="bold" font-style="italic" fill="#1c1c1e" textLength="29" lengthAdjust="spacingAndGlyphs" stroke="#1c1c1e" stroke-width="0.6" stroke-linejoin="round">A′</text>
<text transform="translate(91.4 133.5)" font-size="21.6" font-weight="normal" font-style="normal" fill="#333335" textLength="83.8" lengthAdjust="spacingAndGlyphs" stroke="#333335" stroke-width="0.85" stroke-linejoin="round">FALL LINE</text>
<text transform="translate(110 207.8)" font-size="18.4" font-weight="normal" font-style="italic" fill="#42474f" textLength="114.8" lengthAdjust="spacingAndGlyphs" stroke="#42474f" stroke-width="0.77" stroke-linejoin="round">Delaware River</text>
<text transform="translate(438.6 182.5)" font-size="18.2" font-weight="normal" font-style="normal" fill="#333335" textLength="211.4" lengthAdjust="spacingAndGlyphs" stroke="#333335" stroke-width="0.76" stroke-linejoin="round">NAVESINK-HORNERSTOWN</text>
<text transform="translate(438.6 203.9)" font-size="18.2" font-weight="normal" font-style="normal" fill="#333335" textLength="130" lengthAdjust="spacingAndGlyphs" stroke="#333335" stroke-width="0.76" stroke-linejoin="round">CONFINING UNIT</text>
<text transform="translate(658.6 133.9)" font-size="18.2" font-weight="normal" font-style="normal" fill="#333335" textLength="107.1" lengthAdjust="spacingAndGlyphs" stroke="#333335" stroke-width="0.76" stroke-linejoin="round">VINCENTOWN</text>
<text transform="translate(658.6 156)" font-size="18.2" font-weight="normal" font-style="normal" fill="#333335" textLength="65.7" lengthAdjust="spacingAndGlyphs" stroke="#333335" stroke-width="0.76" stroke-linejoin="round">AQUIFER</text>
<text transform="translate(1121.8 259.6)" font-size="18.2" font-weight="normal" font-style="normal" fill="#333335" textLength="176.8" lengthAdjust="spacingAndGlyphs" stroke="#333335" stroke-width="0.76" stroke-linejoin="round">KIRKWOOD-COHANSEY</text>
<text transform="translate(1121.8 281)" font-size="18.2" font-weight="normal" font-style="normal" fill="#333335" textLength="133.9" lengthAdjust="spacingAndGlyphs" stroke="#333335" stroke-width="0.76" stroke-linejoin="round">AQUIFER SYSTEM</text>
<text transform="translate(1079.3 384.6) rotate(23.05)" font-size="18.2" font-weight="normal" font-style="normal" fill="#38332c" textLength="129.2" lengthAdjust="spacingAndGlyphs" stroke="#38332c" stroke-width="0.76" stroke-linejoin="round">CONFINING UNIT</text>
<text transform="translate(783.7 339.8) rotate(25.59)" font-size="18.2" font-weight="normal" font-style="normal" fill="#2b3d55" textLength="285" lengthAdjust="spacingAndGlyphs" stroke="#2b3d55" stroke-width="0.76" stroke-linejoin="round">WENONAH-MOUNT LAUREL AQUIFER</text>
<text transform="translate(801.5 381.5) rotate(25.28)" font-size="18.2" font-weight="normal" font-style="normal" fill="#38332c" textLength="357.8" lengthAdjust="spacingAndGlyphs" stroke="#38332c" stroke-width="0.76" stroke-linejoin="round">MARSHALLTOWN-WENONAH CONFINING UNIT</text>
<text transform="translate(680.4 346.9) rotate(25.39)" font-size="18.2" font-weight="normal" font-style="normal" fill="#2b3d55" textLength="253.7" lengthAdjust="spacingAndGlyphs" stroke="#2b3d55" stroke-width="0.76" stroke-linejoin="round">ENGLISHTOWN AQUIFER SYSTEM</text>
<text transform="translate(658.3 382.9) rotate(27.16)" font-size="18.2" font-weight="normal" font-style="normal" fill="#38332c" textLength="366.1" lengthAdjust="spacingAndGlyphs" stroke="#38332c" stroke-width="0.76" stroke-linejoin="round">MERCHANTVILLE-WOODBURY CONFINING UNIT</text>
<text transform="translate(618.3 414.3) rotate(28.49)" font-size="18.2" font-weight="normal" font-style="normal" fill="#2b3d55" textLength="368.4" lengthAdjust="spacingAndGlyphs" stroke="#2b3d55" stroke-width="0.76" stroke-linejoin="round">UPPER POTOMAC-RARITAN-MAGOTHY AQUIFER</text>
<text transform="translate(373 318.9) rotate(28.94)" font-size="18.2" font-weight="normal" font-style="normal" fill="#38332c" textLength="734.4" lengthAdjust="spacingAndGlyphs" stroke="#38332c" stroke-width="0.76" stroke-linejoin="round">CONFINING UNIT BETWEEN THE UPPER AND MIDDLE POTOMAC-RARITAN-MAGOTHY AQUIFERS</text>
<text transform="translate(590.8 486.9) rotate(32.14)" font-size="18.2" font-weight="normal" font-style="normal" fill="#2b3d55" textLength="376.1" lengthAdjust="spacingAndGlyphs" stroke="#2b3d55" stroke-width="0.76" stroke-linejoin="round">MIDDLE POTOMAC-RARITAN-MAGOTHY AQUIFER</text>
<text transform="translate(333.4 391.1) rotate(35.52)" font-size="18.2" font-weight="normal" font-style="normal" fill="#38332c" textLength="738.3" lengthAdjust="spacingAndGlyphs" stroke="#38332c" stroke-width="0.76" stroke-linejoin="round">CONFINING UNIT BETWEEN THE MIDDLE AND LOWER POTOMAC-RARITAN-MAGOTHY AQUIFERS</text>
<text transform="translate(531.5 619.2) rotate(43.73)" font-size="18.2" font-weight="normal" font-style="normal" fill="#2b3d55" textLength="372.4" lengthAdjust="spacingAndGlyphs" stroke="#2b3d55" stroke-width="0.76" stroke-linejoin="round">LOWER POTOMAC-RARITAN-MAGOTHY AQUIFER</text>
<text transform="translate(533 759.5) rotate(46.72)" font-size="18.2" font-weight="normal" font-style="normal" fill="#3a2f2b" textLength="70.7" lengthAdjust="spacingAndGlyphs" stroke="#3a2f2b" stroke-width="0.76" stroke-linejoin="round">BEDROCK</text>
<text transform="translate(130 1000)" font-size="32.2" font-weight="normal" font-style="normal" fill="#333335" textLength="187" lengthAdjust="spacingAndGlyphs" stroke="#333335" stroke-width="0.85" stroke-linejoin="round">EXPLANATION</text>
<text transform="translate(246.6 1063.7)" font-size="28" font-weight="normal" font-style="normal" fill="#333335" textLength="94.8" lengthAdjust="spacingAndGlyphs" stroke="#333335" stroke-width="0.85" stroke-linejoin="round">AQUIFER</text>
<text transform="translate(246.6 1115.7)" font-size="28" font-weight="normal" font-style="normal" fill="#333335" textLength="186.3" lengthAdjust="spacingAndGlyphs" stroke="#333335" stroke-width="0.85" stroke-linejoin="round">CONFINING UNIT</text>
<text transform="translate(110.6 1245.7)" font-size="29" font-weight="normal" font-style="normal" fill="#333335" textLength="138.8" lengthAdjust="spacingAndGlyphs" stroke="#333335" stroke-width="0.85" stroke-linejoin="round">Not to scale</text>
<text transform="translate(35.7 1373.7)" font-size="24" font-weight="bold" font-style="normal" fill="#2a2627" textLength="85.7" lengthAdjust="spacingAndGlyphs" stroke="#2a2627" stroke-width="0.55" stroke-linejoin="round">Figure 2.</text>
<text transform="translate(150 1373.7)" font-size="24" font-weight="normal" font-style="normal" fill="#333335" textLength="1235" lengthAdjust="spacingAndGlyphs" stroke="#333335" stroke-width="0.45" stroke-linejoin="round">Generalized hydrogeologic section through New Jersey Coastal Plain aquifers and confining units in the Salem-Gloucester</text>
<text transform="translate(35.7 1405)" font-size="24" font-weight="normal" font-style="normal" fill="#333335" textLength="334.8" lengthAdjust="spacingAndGlyphs" stroke="#333335" stroke-width="0.45" stroke-linejoin="round">study area, southern New Jersey.</text>
</svg>
</body></html>
